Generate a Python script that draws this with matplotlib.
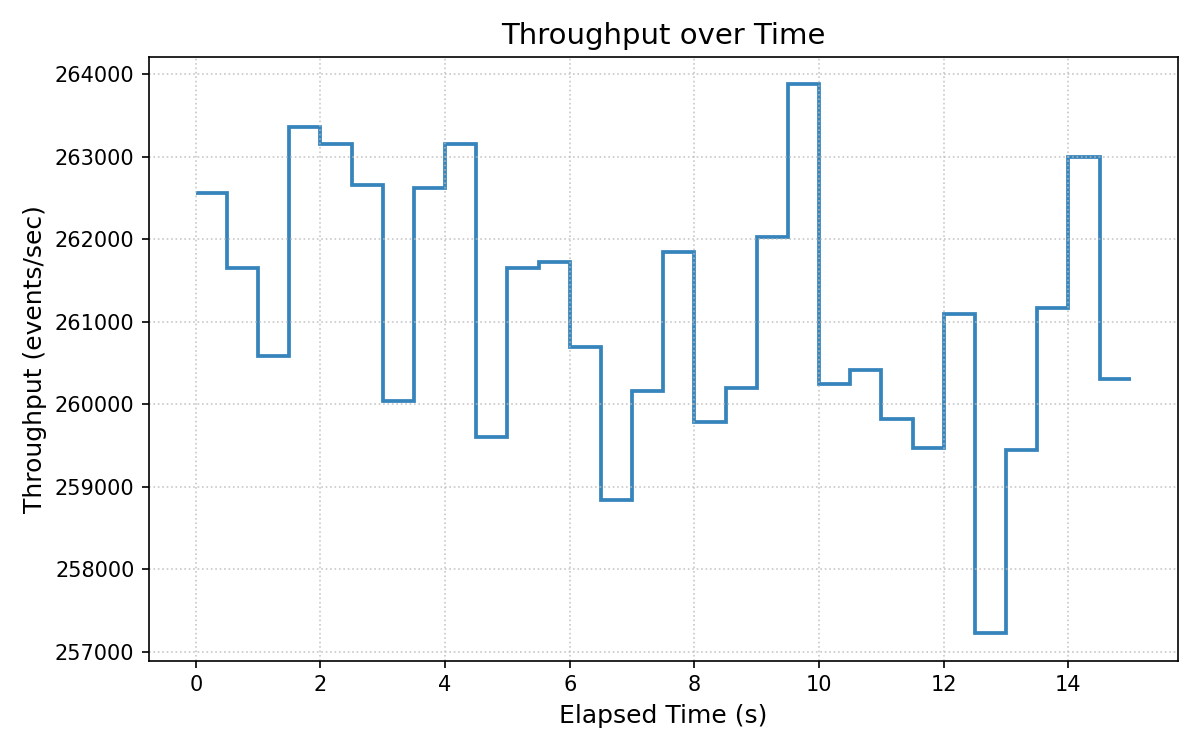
import matplotlib
matplotlib.use("Agg")
import matplotlib.pyplot as plt
import numpy as np

# Interval edges (seconds) and throughput per interval (events/sec)
edges = [0.0, 0.5, 1.0, 1.5, 2.0, 2.5, 3.0, 3.5, 4.0, 4.5, 5.0, 5.5, 6.0, 6.5, 7.0,
         7.5, 8.0, 8.5, 9.0, 9.5, 10.0, 10.5, 11.0, 11.5, 12.0, 12.5, 13.0, 13.5,
         14.0, 14.5, 15.0]
throughput = [262561, 261648, 260588, 263364, 263159, 262656, 260035, 262627,
              263159, 259600, 261656, 261721, 260696, 258843, 260161, 261842,
              259789, 260200, 262024, 263877, 260246, 260418, 259822, 259463,
              261090, 257223, 259440, 261160, 263000, 260308]

fig, ax = plt.subplots(figsize=(8, 5), dpi=150)
ax.stairs(throughput, edges, baseline=None, color="#1f77b4", alpha=0.9,
          linewidth=1.8)
ax.set_xlim(edges[0] - 0.75, edges[-1] + 0.75)
span = max(throughput) - min(throughput)
ax.set_ylim(min(throughput) - 0.05 * span, max(throughput) + 0.05 * span)

ax.set_title("Throughput over Time", fontsize=14)
ax.set_xlabel("Elapsed Time (s)", fontsize=12)
ax.set_ylabel("Throughput (events/sec)", fontsize=12)
ax.grid(True, linestyle=":", color="#bbbbbb", alpha=0.8)
ax.ticklabel_format(axis="y", style="plain", useOffset=False)

fig.tight_layout()
fig.savefig("out.png", dpi=150)
